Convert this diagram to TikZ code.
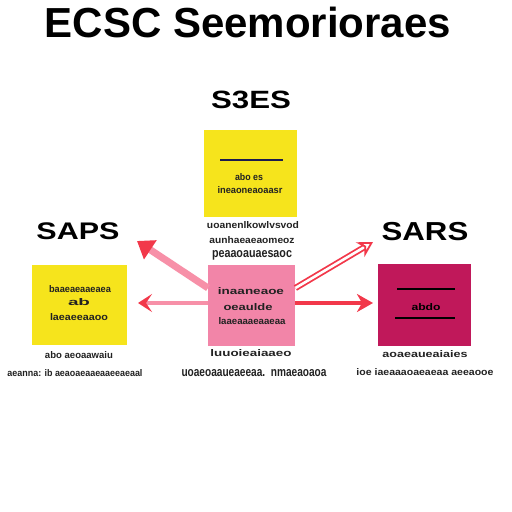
\documentclass[tikz,border=0pt]{standalone}
\usepackage{fontspec}
\setmainfont{Liberation Sans}
\usepackage{graphicx}
\usetikzlibrary{arrows.meta}
\definecolor{boxyellow}{HTML}{F6E41C}
\definecolor{boxpink}{HTML}{F285A8}
\definecolor{boxmag}{HTML}{C0185A}
\definecolor{shaftpink}{HTML}{F790A8}
\definecolor{headred}{HTML}{F2384A}
\definecolor{txtgray}{HTML}{222222}
\newcommand{\gtxt}[2]{\resizebox{#1pt}{7pt}{\bfseries #2}}
\tikzset{
  box/.style={draw=none, inner sep=0pt, anchor=north west},
  head/.style={font=\bfseries, inner sep=0pt, text=black},
  small/.style={inner sep=0pt, text=txtgray},
  bar/.style={line width=2.2pt, draw=#1},
}
\begin{document}
\begin{tikzpicture}[x=1pt,y=-1pt]
\useasboundingbox[fill=white] (0,0) rectangle (512,512);
% title
\node[head] (title) at (248,22) {\fontsize{42}{46}\selectfont ECSC Seemorioraes};
% headings
\node[head] (h1) at (251,100) {\scalebox{1.25}[1]{\fontsize{25}{28}\selectfont S3ES}};
\node[head] (h2) at (78,231) {\scalebox{1.27}[1]{\fontsize{24}{28}\selectfont SAPS}};
\node[head] (h3) at (425,232) {\scalebox{1.2}[1]{\fontsize{26}{30}\selectfont SARS}};
% boxes
\node[box, fill=boxyellow, minimum width=93pt, minimum height=87pt] (top) at (204,130) {};
\node[box, fill=boxyellow, minimum width=95pt, minimum height=80pt] (left) at (32,265) {};
\node[box, fill=boxpink, minimum width=87pt, minimum height=81pt] (mid) at (208,265) {};
\node[box, fill=boxmag, minimum width=93pt, minimum height=82pt] (right) at (378,264) {};
% arrow end points
\coordinate (ulend) at (137,241);
\coordinate (lend) at (138,303);
\coordinate (urend) at (373,242);
\coordinate (rend) at (373,303);
% arrows
\draw[shaftpink, line width=7pt, -{Triangle[headred, length=16pt, width=22pt]}]
  (mid.north west |- 0,288) -- (ulend);
\draw[shaftpink, line width=4pt, -{Stealth[headred, length=14pt, width=18pt, inset=6pt]}]
  (mid.west |- 0,303) -- (lend);
\draw[headred, line width=4pt, -{Stealth[headred, length=16pt, width=18pt, inset=5pt]}]
  (mid.east |- 0,303) -- (rend);
\draw[headred, double=white, double distance=2.6pt, line width=1.8pt, -{Stealth[headred, length=15pt, width=17pt, inset=5pt, open]}]
  (mid.north east |- 0,288) -- (urend);
% top box content
\draw[bar=txtgray!80!blue] (220,160) -- (283,160);
\node[small] (t1) at (249,177) {\gtxt{28}{abo es}};
\node[small] (t2) at (250,190) {\gtxt{65}{ineaoneaoaasr}};
\node[small] (t3) at (253,225) {\gtxt{92}{uoanenlkowlvsvod}};
\node[small] (t4) at (252,240) {\gtxt{85}{aunhaeaeaomeoz}};
\node[small] (t5) at (252,255) {\gtxt{80}{peaaoauaesaoc}};
% left box content
\node[small] (l1) at (80,289) {\gtxt{62}{baaeaeaaeaea}};
\node[small] (l2) at (79,302) {\gtxt{22}{ab}};
\node[small] (l3) at (79,317) {\gtxt{58}{laeaeeaaoo}};
\node[small] (l4) at (79,355) {\gtxt{68}{abo aeoaawaiu}};
\node[small] (l5) at (75,373) {\gtxt{135}{aeanna: ib aeaoaeaaeaaeeaeaal}};
% mid box content
\node[small] (m1) at (251,291) {\gtxt{66}{inaaneaoe}};
\node[small] (m2) at (248,307) {\gtxt{49}{oeaulde}};
\node[small] (m3) at (252,321) {\gtxt{67}{laaeaaaeaaeaa}};
\node[small] (m4) at (251,353) {\gtxt{81}{luuoieaiaaeo}};
\node[small] (m5) at (254,373) {\gtxt{145}{uoaeoaaueaeeaa.\ \ nmaeaoaoa}};
% right box content
\draw[bar=black] (397,289) -- (455,289);
\node[small, text=black] (r1) at (426,307) {\gtxt{29}{abdo}};
\draw[bar=black] (395,318) -- (455,318);
\node[small] (r2) at (425,354) {\gtxt{85}{aoaeaueaiaies}};
\node[small] (r3) at (425,372) {\gtxt{137}{ioe iaeaaaoaeaeaa aeeaooe}};
\end{tikzpicture}
\end{document}
